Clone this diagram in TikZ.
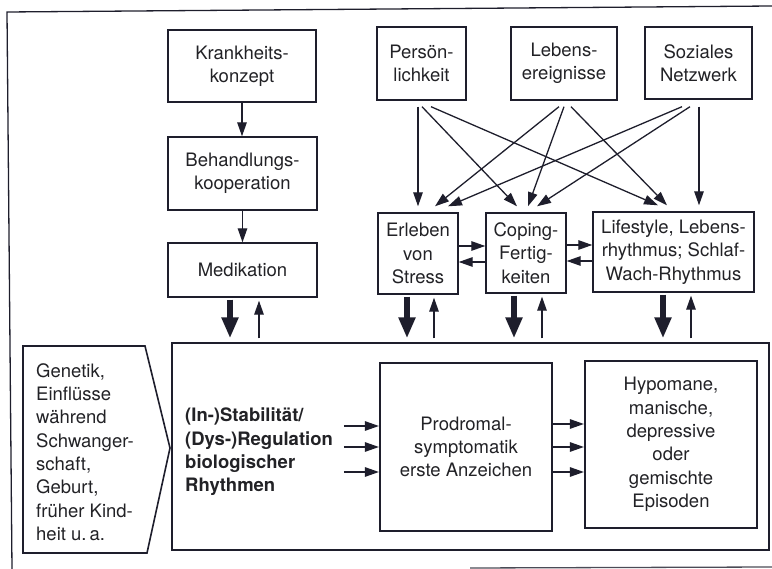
\documentclass[tikz,border=0pt]{standalone}
\usepackage{fontspec}
\setmainfont{TeX Gyre Heros}
\usetikzlibrary{arrows.meta,calc}
\definecolor{ink}{RGB}{30,30,44}
\definecolor{txtc}{RGB}{34,34,38}
\newcommand\figfont{\fontsize{18.5}{23.3}\selectfont}
\begin{document}
\begin{tikzpicture}[x=1pt,y=-1pt,
  box/.style={draw=ink,line width=1.4pt,inner sep=0pt,align=center,font=\figfont,text=txtc},
  heavybox/.style={box,line width=2.2pt},
  arr/.style={draw=ink,line width=1.3pt,-{Triangle[length=14pt,width=9.5pt]}},
  fat/.style={draw=ink,line width=5.5pt,-{Triangle[length=21pt,width=16pt]}},
  plain/.style={inner sep=0pt,font=\figfont,text=txtc,align=left}]
\useasboundingbox (0,0) rectangle (772,569);
% outer frame (scan)
\draw[ink,line width=1.3pt] (12,569) -- (7,12) -- (772,6);
\draw[ink!80,line width=1.3pt] (470,568) -- (772,567);

% top nodes
\node[box,minimum width=148pt,minimum height=72pt] (krank) at (242,66) {Krankheits-\\konzept};
\node[box,minimum width=149pt,minimum height=73pt] (behand) at (242.5,173.5) {Behandlungs-\\kooperation};
\node[box,minimum width=149pt,minimum height=54pt] (medik) at (242.5,270) {Medikation};
\node[box,minimum width=89pt,minimum height=73pt] (pers) at (421.5,63.5) {Persön-\\lichkeit};
\node[box,minimum width=106pt,minimum height=73pt] (leben) at (564,63.5) {Lebens-\\ereignisse};
\node[box,minimum width=107pt,minimum height=72pt] (sozial) at (698.5,63) {Soziales\\Netzwerk};
\node[box,minimum width=80pt,minimum height=81pt] (stress) at (418,253.5) {Erleben\\von\\Stress};
\node[box,minimum width=80pt,minimum height=80pt] (coping) at (526,253) {Coping-\\Fertig-\\keiten};
\node[box,minimum width=161pt,minimum height=80pt] (life) at (673.5,252) {Lifestyle, Lebens-\\rhythmus; Schlaf-\\Wach-Rhythmus};

% bottom area
\node[box,minimum width=597pt,minimum height=207pt] (big) at (470.5,446.5) {};
\node[heavybox,minimum width=172pt,minimum height=168pt] (prod) at (466,447) {Prodromal-\\symptomatik\\erste Anzeichen};
\node[heavybox,minimum width=172pt,minimum height=167pt] (hypo) at (671,444.5) {Hypomane,\\manische,\\depressive\\oder\\gemischte\\Episoden};
\draw[draw=ink,line width=1.6pt] (23,346) -- (145,346) -- (170,448) -- (147,553) -- (23,553) -- cycle;
\node[plain,anchor=west] (gen) at (36,452) {Genetik,\\Einflüsse\\während\\Schwanger-\\schaft,\\Geburt,\\früher Kind-\\heit u.\,a.};
\node[plain,anchor=west,font=\figfont\bfseries] (bio) at (185,452) {(In-)Stabilität/\\(Dys-)Regulation\\biologischer\\Rhythmen};

% left chain
\draw[arr] (krank.south) -- (krank.south |- behand.north);
\draw[arr] (behand.south) -- (behand.south |- medik.north);

% crossing arrows
\draw[arr] ($(pers.south)+(-3.5,6)$) -- ($(stress.north)+(0,-6)$);
\draw[arr] ($(pers.south)+(0.5,6)$) -- ($(coping.north)+(-9,-6)$);
\draw[arr] ($(pers.south)+(9.5,6)$) -- ($(life.north)+(-15.5,-6)$);
\draw[arr] ($(leben.south)+(-5,6)$) -- ($(stress.north)+(17,-6)$);
\draw[arr] ($(leben.south)+(0,6)$) -- ($(coping.north)+(2,-6)$);
\draw[arr] ($(leben.south)+(7,6)$) -- ($(life.north)+(-6.5,-6)$);
\draw[arr] ($(sozial.south)+(-16.5,7)$) -- ($(stress.north)+(30,-6)$);
\draw[arr] ($(sozial.south)+(-8.5,7)$) -- ($(coping.north)+(11,-6)$);
\draw[arr] ($(sozial.south)+(0.5,7)$) -- ($(life.north)+(25.5,-6)$);

% horizontal arrows between middle boxes
\draw[arr] ($(stress.east)+(0,-7.5)$) -- ($(coping.west)+(0,-7)$);
\draw[arr] ($(coping.west)+(0,9)$) -- ($(stress.east)+(0,8.5)$);
\draw[arr] ($(coping.east)+(0,-8)$) -- ($(life.west)+(0,-7)$);
\draw[arr] ($(life.west)+(0,9)$) -- ($(coping.east)+(0,8)$);

% vertical arrows to/from big box
\foreach \n/\a/\b in {medik/-12.5/16.5,stress/-11/16,coping/-12/16,life/-10.5/17.5}{
  \coordinate (d-\n) at ($(\n.south)+(\a,2)$);
  \coordinate (u-\n) at ($(\n.south)+(\b,3)$);
  \draw[fat,shorten >=4pt] (d-\n) -- (d-\n |- big.north);
  \draw[arr,shorten <=4pt] (u-\n |- big.north) -- (u-\n);
}

% arrows into and out of Prodromal box
\foreach \dy in {-21,0,25}{
  \draw[arr] ($(prod.west)+(-35,\dy)$) -- ($(prod.west)+(0,\dy)$);
}
\foreach \dy in {-23,0,25}{
  \coordinate (p\dy) at ($(prod.east)+(0,\dy)$);
  \draw[arr] (p\dy) -- (p\dy -| hypo.west);
}
\end{tikzpicture}
\end{document}
